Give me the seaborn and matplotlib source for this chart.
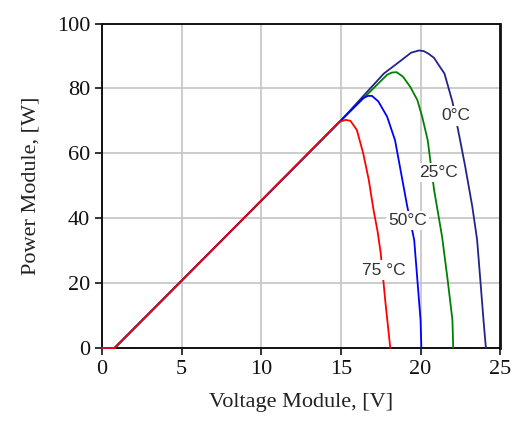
import pandas as pd
import matplotlib
matplotlib.use("Agg")
import matplotlib.pyplot as plt
import seaborn as sns

# P-V curves, one per module temperature
v_0c = [0, 0.8, 5, 10, 15, 17.7, 18.4, 18.85, 19.4, 19.9, 20.2, 20.5, 20.85, 21.1, 21.5, 22.0, 22.4, 22.8, 23.25, 23.55, 23.75, 23.95, 24.1]
p_0c = [0, 0, 20.7, 45.4, 70.1, 84.6, 87.2, 88.9, 91.0, 91.7, 91.5, 90.7, 89.4, 87.5, 84.6, 75.9, 66.1, 56.0, 43.5, 33.3, 21.0, 8.6, 0]

v_25c = [0, 0.8, 5, 10, 15, 17.9, 18.2, 18.5, 18.9, 19.35, 19.8, 20.1, 20.45, 20.85, 21.35, 21.7, 22.0, 22.05]
p_25c = [0, 0, 20.7, 45.4, 70.1, 84.2, 84.9, 85.0, 83.6, 80.5, 76.4, 71.3, 64.0, 48.7, 34.3, 21.0, 8.6, 0]

v_50c = [0, 0.8, 5, 10, 15, 16.4, 16.7, 16.95, 17.35, 17.9, 18.4, 18.7, 19.15, 19.6, 19.8, 20.0, 20.05]
p_50c = [0, 0, 20.7, 45.4, 70.1, 77.0, 77.7, 77.7, 76.0, 71.3, 64.0, 56.0, 44.0, 33.3, 21.0, 8.6, 0]

v_75c = [0, 0.8, 5, 10, 14.9, 15.3, 15.6, 16.0, 16.4, 16.75, 17.05, 17.3, 17.5, 17.8, 18.1]
p_75c = [0, 0, 20.7, 45.4, 69.7, 70.3, 70.0, 67.2, 60.0, 51.8, 42.5, 36.0, 29.2, 13.8, 0]

temps = ["0°C", "25°C", "50°C", "75 °C"]
label_v = [22.2, 21.1, 19.2, 17.7]
label_p = [71.5, 54.2, 39.4, 24.0]

curves = [(v_0c, p_0c), (v_25c, p_25c), (v_50c, p_50c), (v_75c, p_75c)]
rows = []
for t, (vs, ps) in zip(temps, curves):
    for v, p in zip(vs, ps):
        rows.append({"temp": t, "V": v, "P": p})
df = pd.DataFrame(rows)

colors = {"0°C": "#23238c", "25°C": "#008000", "50°C": "#0000ff", "75 °C": "#ff0000"}

sns.set_style("ticks")
plt.rcParams["font.family"] = ["Liberation Serif", "DejaVu Serif"]

fig = plt.figure(figsize=(5.12, 4.36), dpi=100)
ax = fig.add_axes([0.199, 0.202, 0.778, 0.744])

sns.lineplot(data=df, x="V", y="P", hue="temp", palette=colors, sort=False,
             estimator=None, units="temp", linewidth=1.3, legend=False, ax=ax, zorder=3)
for line in ax.lines:
    line.set_clip_on(False)

# temperature labels sit on a white box that cuts the lines
for t, x, y in zip(temps, label_v, label_p):
    ax.text(x, y, t, fontsize=12.5, color="#333333", ha="center", va="center", zorder=4,
            family=["Liberation Sans", "DejaVu Sans"],
            bbox=dict(facecolor="white", edgecolor="none", pad=1.5))

ax.set_xlim(0, 25)
ax.set_ylim(0, 100)
ax.set_xticks(range(0, 26, 5))
ax.set_yticks(range(0, 101, 20))
ax.grid(True, color="#c4c4c4", linewidth=1.2)
ax.set_axisbelow(True)
for s in ax.spines.values():
    s.set_visible(True)
    s.set_color("#111111")
    s.set_linewidth(1.4)
    s.set_zorder(2)
ax.spines["right"].set_linewidth(2.0)
ax.tick_params(direction="out", length=5, width=1.2, labelsize=16, colors="#111111")
ax.set_xlabel("Voltage Module, [V]", fontsize=16, labelpad=10, color="#222222")
ax.set_ylabel("Power Module, [W]", fontsize=16, labelpad=12, color="#222222")

plt.savefig("out.png", dpi=100)
plt.close()
